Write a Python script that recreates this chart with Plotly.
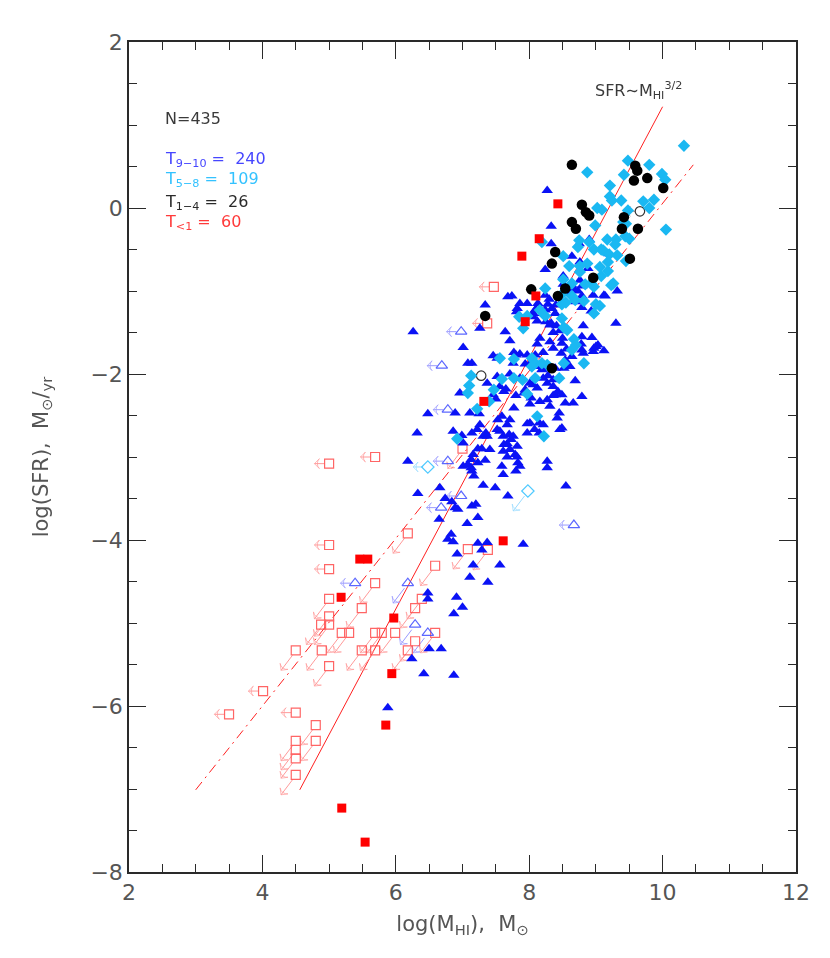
import plotly.graph_objects as go

# T 9-10 (blue triangles), detections
tri_pts = [
    (8.27, 0.21), (8.33, -0.22), (8.33, -0.43), (8.24, -0.74), (8.64, -0.58), (8.51, -0.82),
    (8.76, -0.65), (8.90, -0.38), (9.20, -0.55), (8.51, -0.92), (8.64, -0.93), (8.76, -0.87),
    (8.73, -1.00), (8.79, -1.06), (8.96, -1.05), (9.12, -1.05), (7.68, -1.07), (7.74, -1.06),
    (7.34, -1.17), (7.82, -1.21), (7.97, -1.15), (8.06, -1.27), (8.10, -1.22), (8.21, -1.27),
    (8.28, -1.16), (8.39, -1.27), (8.25, -1.37), (7.26, -1.45), (7.64, -1.49), (7.71, -1.60),
    (8.06, -1.31), (8.12, -1.36), (8.31, -1.41), (8.36, -1.50), (8.41, -1.42), (8.81, -1.42),
    (6.26, -1.49), (7.01, -1.68), (7.08, -1.87), (7.14, -1.87), (7.77, -1.74), (7.80, -1.77),
    (7.86, -1.76), (7.97, -1.77), (8.12, -1.64), (8.16, -1.57), (8.31, -1.61), (8.36, -1.69),
    (8.49, -1.63), (8.78, -1.64), (8.81, -1.75), (8.96, -1.73), (9.03, -1.65), (8.12, -1.91),
    (8.21, -1.93), (8.39, -1.93), (8.52, -1.93), (7.52, -1.81), (7.76, -1.87),
    (6.48, -2.48), (6.32, -2.71), (6.18, -3.05), (6.89, -2.47), (6.96, -2.23), (7.11, -2.47),
    (7.25, -2.48), (7.37, -2.11), (7.52, -2.03), (7.56, -2.15), (7.62, -2.21), (7.65, -2.18),
    (7.46, -2.25), (7.50, -2.30), (7.35, -2.71), (7.52, -2.67), (7.53, -2.55), (7.59, -2.51),
    (7.77, -2.41), (7.80, -2.26), (7.92, -2.23), (8.03, -2.29), (8.01, -2.36), (8.12, -2.17),
    (8.16, -2.33), (8.27, -2.31), (8.39, -2.25), (8.31, -2.39), (8.49, -2.25), (8.54, -2.35),
    (8.66, -2.35), (8.42, -2.53), (8.45, -2.47), (8.79, -2.27), (8.69, -2.08), (8.27, -2.11),
    (8.28, -2.02), (7.67, -2.61), (7.71, -2.55), (7.76, -2.75), (7.79, -2.97), (7.83, -3.07),
    (8.27, -3.05), (7.97, -2.71), (8.15, -2.71), (8.21, -2.61), (7.97, -2.60), (8.46, -2.67),
    (6.86, -2.69), (6.99, -2.74), (7.01, -2.83), (7.14, -2.71), (7.22, -2.67), (7.26, -2.61),
    (7.31, -2.75), (7.37, -2.75), (7.41, -2.91), (7.56, -2.69), (7.61, -2.75), (7.70, -2.73),
    (7.67, -2.84), (7.61, -2.93), (7.71, -2.91), (7.82, -3.00), (7.34, -3.04), (7.01, -3.11),
    (7.08, -3.09), (7.13, -3.13), (7.23, -3.07), (7.59, -3.11), (7.86, -3.11), (8.27, -3.13),
    (8.88, -0.73), (8.57, -1.03), (8.67, -0.98), (8.79, -0.94), (9.14, -1.06), (9.32, -1.00),
    (8.40, -1.17), (8.49, -1.13), (8.70, -1.13), (8.79, -1.20), (8.93, -1.24), (8.24, -1.05),
    (8.30, -1.10), (7.86, -1.15), (7.81, -1.25), (8.13, -1.15), (8.09, -1.23), (8.24, -1.23),
    (8.34, -1.21), (8.33, -1.39), (8.46, -1.48), (8.94, -1.56), (8.97, -1.69), (8.79, -1.55),
    (8.79, -1.71), (9.12, -1.72), (9.30, -1.39), (8.50, -1.57), (8.56, -1.70), (8.64, -1.79),
    (8.48, -1.75), (8.21, -1.74), (8.09, -1.77), (8.04, -1.85), (7.94, -1.88), (7.46, -1.78),
    (8.61, -1.91), (8.36, -2.07), (8.21, -2.05), (7.71, -2.00), (7.86, -2.05), (8.01, -2.11),
    (7.94, -2.19), (8.06, -2.13), (8.19, -1.95), (8.36, -2.15),
    (6.33, -3.44), (6.66, -3.37), (6.74, -3.50), (6.84, -3.54), (6.93, -3.63), (6.65, -3.75),
    (7.07, -3.80), (7.14, -3.59), (7.20, -3.57), (7.23, -3.73), (7.31, -3.34), (7.49, -3.37),
    (7.61, -3.21), (7.80, -3.17), (7.23, -2.90), (7.29, -2.90), (7.16, -2.97), (7.13, -3.03),
    (7.14, -3.17), (7.17, -3.23), (7.67, -3.00), (7.82, -2.87), (7.62, -2.85), (7.73, -2.79),
    (8.08, -2.67), (8.15, -2.59), (6.78, -3.99), (6.86, -4.02), (7.23, -4.04), (7.37, -4.03),
    (7.91, -4.05), (6.92, -4.17), (7.29, -4.12), (7.16, -4.30), (7.56, -4.30), (7.68, -3.47),
    (8.55, -3.35), (6.83, -3.93), (6.89, -3.61), (8.49, -2.65), (8.36, -2.26), (8.43, -2.21),
    (8.01, -2.59), (9.00, -1.67), (8.54, -1.83), (8.75, -0.43),
    (6.48, -4.64), (6.48, -4.71), (6.24, -5.43), (6.50, -5.31), (6.42, -5.61), (5.88, -6.02),
    (6.91, -4.69), (7.00, -4.81), (6.87, -4.89), (6.68, -5.31), (6.87, -5.63), (7.11, -4.45),
    (7.38, -4.51),
]
# T 5-8 (cyan diamonds)
dia_pts = [
    (10.32, 0.75), (9.48, 0.57), (9.80, 0.52), (8.87, 0.43), (9.42, 0.40), (9.99, 0.41),
    (10.04, 0.34), (9.21, 0.27), (9.21, 0.14), (9.24, 0.09), (9.38, 0.09), (9.71, 0.08),
    (9.87, 0.10), (9.80, 0.00), (9.02, 0.00), (9.09, -0.02), (9.48, -0.03), (9.41, -0.17),
    (9.45, -0.19), (8.99, -0.21), (10.05, -0.26), (9.44, -0.34), (9.50, -0.37), (9.17, -0.38),
    (9.30, -0.38), (9.29, -0.44), (8.75, -0.39), (8.73, -0.47), (8.19, -0.41), (8.97, -0.50),
    (9.11, -0.51), (8.51, -0.58), (9.20, -0.56), (9.32, -0.57), (8.87, -0.67), (8.76, -0.70),
    (8.60, -0.70), (9.18, -0.65), (9.45, -0.64), (9.06, -0.71), (9.18, -0.76), (9.08, -0.82),
    (9.26, -0.91), (9.23, -0.93), (8.76, -0.77), (8.24, -0.97), (8.51, -0.86), (8.64, -0.91),
    (8.84, -0.92), (8.93, -0.91), (8.97, -0.95), (8.49, -1.04), (8.64, -1.06), (8.69, -1.11),
    (8.82, -1.12), (8.49, -1.16), (8.55, -1.14), (9.00, -1.16), (9.06, -1.18), (8.97, -1.27),
    (8.16, -1.23), (7.85, -1.31), (7.97, -1.30), (7.91, -1.45), (8.49, -1.33), (8.52, -1.44),
    (8.57, -1.47), (8.67, -1.58), (8.70, -1.65), (8.64, -1.71), (8.24, -1.30), (8.82, -1.87),
    (8.27, -1.89), (7.56, -1.81), (7.77, -1.82), (8.04, -1.81), (8.04, -1.91), (8.52, -1.87),
    (8.09, -2.05), (7.77, -2.05), (7.90, -2.07), (7.59, -2.06), (8.45, -2.05), (7.97, -2.24),
    (7.10, -2.14), (7.08, -2.23), (7.22, -2.42), (7.40, -2.33), (7.47, -2.19), (8.12, -2.51),
    (8.22, -2.75), (6.92, -2.78), (7.13, -2.02), (9.08, -0.50), (8.09, -1.87), (8.19, -1.87),
    (8.90, -0.41),
]
# T 1-4 (black circles)
circ_pts = [
    (8.64, 0.52), (9.59, 0.51), (9.62, 0.45), (9.57, 0.33), (9.77, 0.36), (10.01, 0.24),
    (8.79, 0.04), (8.85, -0.05), (8.90, -0.09), (8.64, -0.17), (8.70, -0.25), (9.42, -0.11),
    (9.39, -0.25), (9.63, -0.25), (8.39, -0.53), (8.34, -0.67), (9.51, -0.61), (8.96, -0.84),
    (8.03, -0.98), (8.43, -1.06), (8.54, -0.97), (7.34, -1.30), (8.34, -1.93),
]
# T < 1 (red squares)
sq_pts = [
    (8.43, 0.05), (8.15, -0.37), (7.89, -0.58), (8.10, -1.06), (7.94, -1.37), (7.32, -2.33),
    (7.61, -4.01), (5.46, -4.23), (5.58, -4.23), (5.18, -4.69), (5.97, -4.94), (5.94, -5.61),
    (5.85, -6.23), (5.19, -7.23), (5.54, -7.64),
]

# upper limits: "left" = limit on M_HI only, "diag" = limits on both
sq_left = [
    (5.00, -4.06), (5.00, -4.35), (4.01, -5.82), (3.50, -6.10), (4.50, -6.08), (5.00, -3.08),
    (5.69, -3.00), (7.37, -1.39), (7.47, -0.95),
]
sq_diag = [
    (6.18, -3.92), (6.59, -4.31), (5.69, -4.52), (5.00, -4.71), (5.49, -4.82), (6.39, -4.71),
    (6.29, -4.82), (5.00, -4.92), (4.88, -5.02), (5.00, -5.02), (5.19, -5.12), (5.30, -5.12),
    (5.69, -5.12), (5.79, -5.12), (5.99, -5.12), (6.59, -5.12), (6.29, -5.22), (4.50, -5.33),
    (4.89, -5.33), (5.49, -5.33), (5.69, -5.33), (6.18, -5.33), (5.00, -5.52), (4.80, -6.23),
    (4.50, -6.42), (4.80, -6.42), (4.50, -6.53), (4.50, -6.63), (4.50, -6.83), (7.00, -2.90),
    (7.08, -4.11), (7.38, -4.12),
]
tri_left = [
    (6.98, -1.49), (6.69, -1.90), (6.78, -2.43), (6.78, -3.05), (6.98, -3.47), (6.68, -3.61),
    (8.67, -3.82), (5.39, -4.52),
]
tri_diag = [(6.18, -4.52), (6.29, -5.02), (6.48, -5.12)]
dia_left = [(6.48, -3.12)]
dia_diag = [(7.98, -3.41)]
circ_left = [(7.28, -2.02), (9.66, -0.04)]

# fitted relations (end points)
fit15_x = [4.56, 10.0]
fit15_y = [-7.01, 1.22]
fit1_x = [3.0, 10.46]
fit1_y = [-7.01, 0.52]

NB = "\u00a0"
counts = [("N=435", "#3a3a3a"),
          ("T<sub>9\u221210</sub>" + NB + "=" + NB * 2 + "240", "#4646ff"),
          ("T<sub>5\u22128</sub>" + NB + "=" + NB * 2 + "109", "#33c2ff"),
          ("T<sub>1\u22124</sub>" + NB + "=" + NB * 2 + "26", "#2a2a2a"),
          ("T<sub>&lt;1</sub>" + NB + "=" + NB * 2 + "60", "#ff3a3a")]

FONT = "DejaVu Sans"
fig = go.Figure()

fig.add_trace(go.Scatter(x=fit15_x, y=fit15_y, mode="lines",
                         line=dict(color="#ff2020", width=1)))
fig.add_trace(go.Scatter(x=fit1_x, y=fit1_y, mode="lines",
                         line=dict(color="#ff2020", width=1, dash="10px,5px,2px,5px")))


def arrows(p, color, diag):
    # limit arrows: a short segment from the symbol edge, arrow head at the far end
    xs, ys, sizes = [], [], []
    for a, b in p:
        if diag:
            tail, head = (a - 0.05, b - 0.06), (a - 0.22, b - 0.24)
        else:
            tail, head = (a - 0.07, b), (a - 0.22, b)
        xs += [tail[0], head[0], None]
        ys += [tail[1], head[1], None]
        sizes += [0, 7, 0]
    fig.add_trace(go.Scatter(
        x=xs, y=ys, mode="lines+markers", line=dict(color=color, width=1),
        marker=dict(symbol="arrow-wide-open", size=sizes, angleref="previous",
                    color=color, line=dict(width=1, color=color)),
    ))


arrows(sq_left, "#ff9a9a", False)
arrows(sq_diag, "#ff9a9a", True)
arrows(tri_left, "#9a9aff", False)
arrows(tri_diag, "#9a9aff", True)
arrows(dia_left, "#9adcff", False)
arrows(dia_diag, "#9adcff", True)
arrows(circ_left, "#9a9a9a", False)


def pts(p, symbol, color, size, lw=0, opacity=1.0):
    fig.add_trace(go.Scatter(
        x=[a for a, b in p], y=[b for a, b in p], mode="markers",
        opacity=opacity,
        marker=dict(symbol=symbol, color=color, size=size,
                    line=dict(width=lw, color=color)),
    ))


pts(sq_left + sq_diag, "square-open", "#ff4a4a", 9, 1.2, 0.85)
pts(tri_left + tri_diag, "triangle-up-open", "#3f4cff", 10, 1.2, 0.85)
pts(dia_left + dia_diag, "diamond-open", "#3cc4ff", 9.5, 1.2, 0.9)
pts(circ_left, "circle-open", "#333333", 9.5, 1.2)
pts(tri_pts, "triangle-up", "#0a12f5", 10)
pts(dia_pts, "diamond", "#1ab8f2", 9.5)
pts(circ_pts, "circle", "#000000", 10.5)
pts(sq_pts, "square", "#ff0000", 9)

label_y = [0.908, 0.859, 0.834, 0.807, 0.782]
for (txt, col), yy in zip(counts, label_y):
    fig.add_annotation(x=0.051, y=yy, xref="paper", yref="paper", text=txt,
                       showarrow=False, xanchor="left", yanchor="middle",
                       font=dict(family=FONT, size=16, color=col))

fig.add_annotation(x=8.95, y=1.42, xref="x", yref="y",
                   text="SFR\u223cM<sub>HI</sub><sup>3/2</sup>", showarrow=False,
                   xanchor="left", yanchor="middle",
                   font=dict(family=FONT, size=16, color="#3a3a3a"))

axis_common = dict(
    showline=True, linecolor="#2a2a2a", linewidth=1.5, mirror="ticks",
    ticks="inside", ticklen=17, tickwidth=1.3, tickcolor="#2a2a2a",
    showgrid=False, zeroline=False,
    tickfont=dict(family=FONT, size=22, color="#555555"),
    minor=dict(dtick=0.5, ticks="inside", ticklen=8, tickwidth=1.1, tickcolor="#2a2a2a"),
)
fig.update_xaxes(range=[2, 12], dtick=2, tick0=2,
                 title=dict(text="log(M<sub>HI</sub>),  M<sub>\u2299</sub>",
                            font=dict(family=FONT, size=21, color="#555555"), standoff=12),
                 **axis_common)
fig.update_yaxes(range=[-8, 2], dtick=2, tick0=0,
                 title=dict(text="log(SFR),  M<sub>\u2299</sub>/<sub>yr</sub>",
                            font=dict(family=FONT, size=21, color="#555555"), standoff=36),
                 **axis_common)

# the page adds an 8 px body margin, so the figure is 8 px smaller than the window
fig.update_layout(
    width=822, height=950,
    margin=dict(l=121, r=34, t=34, b=86),
    plot_bgcolor="white", paper_bgcolor="white",
    showlegend=False,
)

fig.write_html("out.html")
